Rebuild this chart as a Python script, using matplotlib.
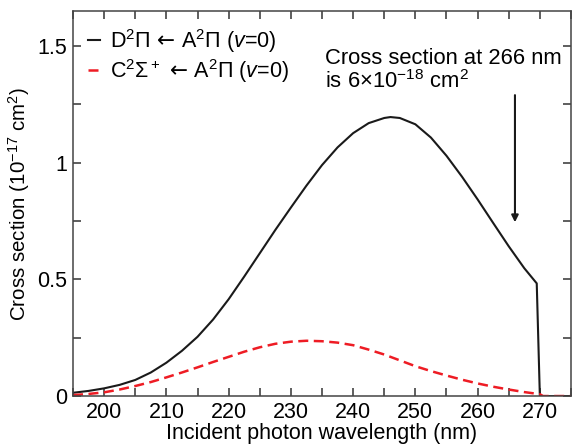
import numpy as np
import matplotlib
matplotlib.use("Agg")
from matplotlib import pyplot as plt
from matplotlib.ticker import MultipleLocator

plt.rcParams['font.family'] = ['Liberation Sans', 'DejaVu Sans']
plt.rcParams['mathtext.fontset'] = 'custom'
plt.rcParams['mathtext.rm'] = 'Liberation Sans'
plt.rcParams['mathtext.it'] = 'Liberation Sans:italic'
plt.rcParams['mathtext.sf'] = 'DejaVu Sans'

# D2Pi <- A2Pi (v=0)
wl_d = [195, 197.5, 200, 202.5, 205, 207.5, 210, 212.5, 215, 217.5, 220, 222.5,
        225, 227.5, 230, 232.5, 235, 237.5, 240, 242.5, 245, 246, 247.5, 250,
        252.5, 255, 257.5, 260, 262.5, 265, 267.5, 269.5, 270, 275]
xs_d = [0.014, 0.022, 0.033, 0.048, 0.069, 0.101, 0.143, 0.194, 0.254, 0.328, 0.415, 0.512,
        0.612, 0.712, 0.808, 0.902, 0.990, 1.066, 1.127, 1.170, 1.192, 1.196, 1.192, 1.165,
        1.108, 1.030, 0.940, 0.843, 0.742, 0.642, 0.548, 0.483, 0.0, 0.0]

# C2Sigma+ <- A2Pi (v=0)
wl_c = [195, 197.5, 200, 202.5, 205, 207.5, 210, 212.5, 215, 217.5, 220, 222.5,
        225, 227.5, 230, 232.5, 235, 237.5, 240, 242.5, 245, 247.5, 250, 252.5,
        255, 257.5, 260, 262.5, 265, 267.5, 270, 270.5, 275]
xs_c = [0.004, 0.009, 0.016, 0.028, 0.043, 0.060, 0.080, 0.101, 0.123, 0.146, 0.168, 0.190,
        0.209, 0.224, 0.233, 0.237, 0.235, 0.229, 0.218, 0.199, 0.178, 0.153, 0.128, 0.107,
        0.088, 0.070, 0.054, 0.040, 0.028, 0.017, 0.008, 0.0, 0.0]

arrow = '$\\,\\mathsf{\\leftarrow}\\,$'

fig = plt.figure(figsize=(5.75, 4.46), dpi=100)
ax = fig.add_axes([0.127, 0.112, 0.866, 0.863])

ax.plot(wl_d, xs_d, color='#1a1a1a', lw=1.5,
        label='D$^2$Π' + arrow + 'A$^2$Π ($\\mathit{v}$=0)')
ax.plot(wl_c, xs_c, color='#ee1c24', lw=1.8, dashes=(4, 2.2),
        label='C$^2$Σ$^+$' + arrow + 'A$^2$Π ($\\mathit{v}$=0)')

ax.set_xlim(195, 275)
ax.set_ylim(0, 1.65)
ax.xaxis.set_major_locator(MultipleLocator(10))
ax.xaxis.set_minor_locator(MultipleLocator(5))
ax.yaxis.set_minor_locator(MultipleLocator(0.25))
ax.set_yticks([0, 0.5, 1, 1.5])
ax.set_yticklabels(['0', '0.5', '1', '1.5'])
ax.tick_params(which='both', direction='in', top=True, right=True,
               labelsize=15.5, color='#333333', width=1.1)
ax.tick_params(which='major', length=6, pad=4)
ax.tick_params(which='minor', length=6)
for s in ax.spines.values():
    s.set_color('#444444')
    s.set_linewidth(1.1)

ax.set_xlabel('Incident photon wavelength (nm)', fontsize=15.5, labelpad=0)
ax.set_ylabel('Cross section (10$^{-17}$ cm$^2$)', fontsize=14.8, labelpad=4)

leg = ax.legend(loc='upper left', frameon=False, fontsize=15.5, handlelength=0.55,
                handletextpad=0.45, labelspacing=0.08, borderaxespad=0.3,
                bbox_to_anchor=(0.0, 0.998))

ax.text(235.5, 1.49, 'Cross section at 266 nm\nis 6×10$^{-18}$ cm$^2$',
        fontsize=15.8, va='top', ha='left', linespacing=1.05)
ax.annotate('', xy=(266, 0.745), xytext=(266, 1.29),
            arrowprops=dict(arrowstyle='-|>', color='#1a1a1a', lw=1.5,
                            mutation_scale=10, shrinkA=0, shrinkB=0))

fig.savefig('out.png', dpi=100)
